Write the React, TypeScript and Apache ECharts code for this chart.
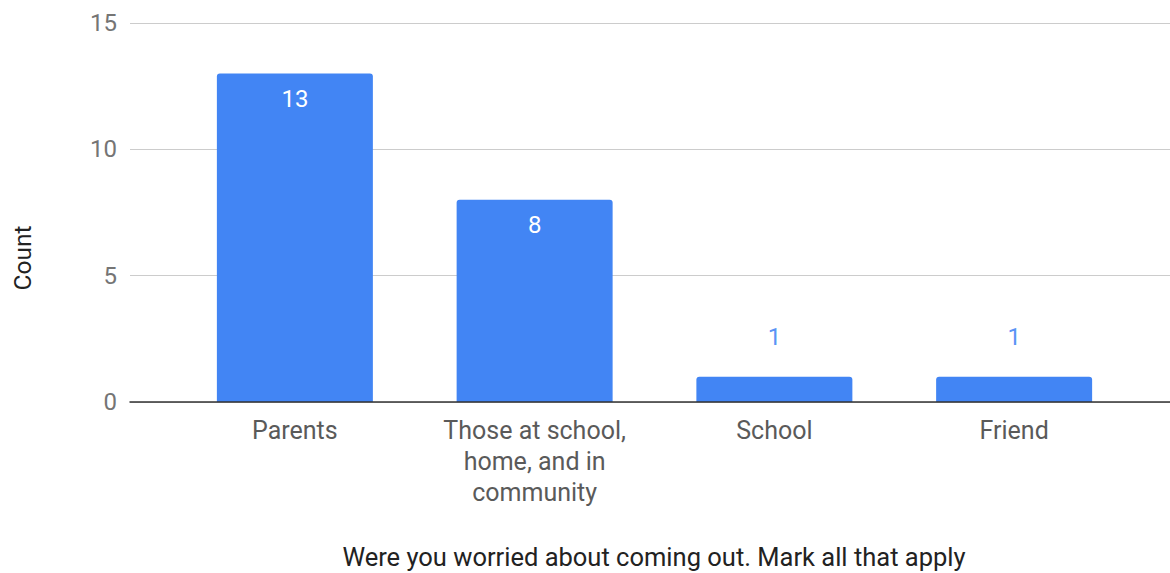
import React, { useEffect, useRef } from "react";
import * as echarts from "echarts";

const categories = ["Parents", "Those at school,\nhome, and in\ncommunity", "School", "Friend"];
const counts = [13, 8, 1, 1];
const yTicks = { min: 0, max: 15, interval: 5 };
const xTitle = "Were you worried about coming out. Mark all that apply";
const yTitle = "Count";

const FONT = "Roboto";
const BLUE = "#4285f4";

export default function App() {
  const ref = useRef<HTMLDivElement>(null);
  useEffect(() => {
    const chart = echarts.init(ref.current!, null, { renderer: "svg" });
    const gridTop = 23;
    const gridBottom = 171;
    chart.setOption({
      animation: false,
      grid: [
        { left: 130, right: 0, top: gridTop, bottom: gridBottom },
        { left: 175, right: 36, top: gridTop, bottom: gridBottom },
      ],
      xAxis: [
        {
          gridIndex: 0,
          type: "value",
          min: 0,
          max: 1,
          z: 5,
          axisLine: { show: true, lineStyle: { color: "#333", width: 1.5 } },
          axisTick: { show: false },
          axisLabel: { show: false },
          splitLine: { show: false },
        },
        {
          gridIndex: 1,
          type: "category",
          data: categories,
          axisLine: { show: false },
          axisTick: { show: false },
          axisLabel: {
            interval: 0,
            margin: 13,
            color: "#5a5a5a",
            fontFamily: FONT,
            fontSize: 25,
            lineHeight: 31,
            align: "center",
          },
        },
      ],
      yAxis: [
        {
          gridIndex: 0,
          type: "value",
          min: yTicks.min,
          max: yTicks.max,
          interval: yTicks.interval,
          axisLine: { show: false },
          axisTick: { show: false },
          axisLabel: { margin: 13, color: "#757575", fontFamily: FONT, fontSize: 24 },
          splitLine: { lineStyle: { color: "#cccccc", width: 1 } },
        },
        {
          gridIndex: 1,
          type: "value",
          min: yTicks.min,
          max: yTicks.max,
          interval: yTicks.interval,
          show: false,
          splitLine: { show: false },
        },
      ],
      series: [
        {
          type: "bar",
          xAxisIndex: 1,
          yAxisIndex: 1,
          data: counts.map((v) => ({
            value: v,
            label:
              v > 2
                ? { position: "insideTop", distance: 13, color: "#ffffff" }
                : { position: "top", distance: 28, color: "#5a94f5" },
          })),
          barWidth: 156,
          itemStyle: { color: BLUE, borderRadius: [3, 3, 0, 0] },
          label: { show: true, fontFamily: FONT, fontSize: 24 },
        },
      ],
      graphic: [
        {
          type: "text",
          x: 654,
          y: 557,
          style: {
            text: xTitle,
            fontFamily: FONT,
            fontSize: 25.5,
            fill: "#222",
            align: "center",
            verticalAlign: "middle",
          },
        },
        {
          type: "text",
          x: 22,
          y: 258,
          rotation: Math.PI / 2,
          style: {
            text: yTitle,
            fontFamily: FONT,
            fontSize: 24.5,
            fill: "#222",
            align: "center",
            verticalAlign: "middle",
          },
        },
      ],
    });
    return () => chart.dispose();
  }, []);
  return (
    <div
      ref={ref}
      style={{ position: "fixed", left: 0, top: 0, width: 1170, height: 573, background: "#fff" }}
    />
  );
}
